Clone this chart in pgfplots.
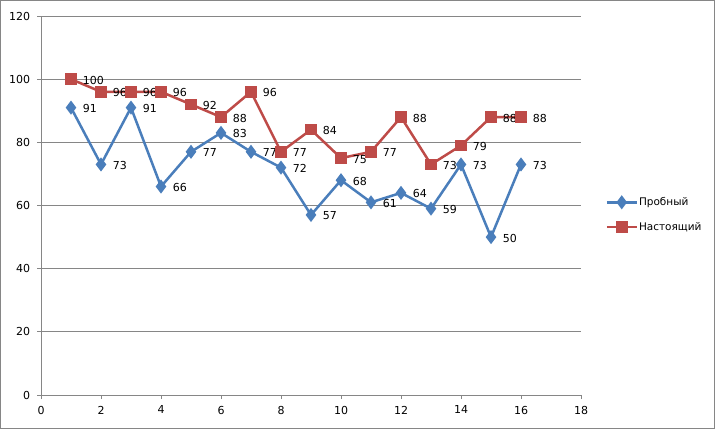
\documentclass[border=0pt]{standalone}
\usepackage{fontspec}
\setmainfont{DejaVu Sans}
\usepackage{pgfplots}
\pgfplotsset{compat=1.18}
\definecolor{sblue}{HTML}{4A7EBB}
\definecolor{sred}{HTML}{BE4B48}
\definecolor{gridc}{HTML}{868686}
\begin{document}
\begin{tikzpicture}
\fontsize{11}{13}\selectfont
\draw[gridc, line width=1pt] (0.5pt,0.5pt) rectangle (714.5pt,428.5pt);
\begin{axis}[
  at={(41pt,34pt)}, anchor=south west,
  scale only axis, width=540pt, height=379pt,
  xmin=0, xmax=18, ymin=0, ymax=120,
  xtick={0,2,...,18}, ytick={0,20,...,120},
  axis x line*=bottom, axis y line*=left,
  axis line style={gridc, line width=0.8pt, -},
  ymajorgrids, grid style={gridc, line width=0.8pt},
  tick style={gridc, line width=0.8pt},
  tick align=outside, major tick length=4pt,
  /pgf/number format/assume math mode=true,
  ticklabel style={font=\fontsize{11}{13}\selectfont},
  xticklabel style={yshift=-3pt},
  yticklabel style={xshift=-3pt},
  nodes near coords,
  every node near coord/.style={anchor=west, xshift=7pt, yshift=-1pt, text=black, font=\fontsize{11}{13}\selectfont},
  legend style={at={(1.045,0.476)}, anchor=west, draw=none, fill=none, font=\fontsize{10.5}{12}\selectfont, row sep=11pt, inner sep=0pt, nodes={inner xsep=1pt}},
  legend cell align=left,
  legend image code/.code={\draw[#1] (0pt,0pt) -- (30pt,0pt); \path[#1, only marks] plot coordinates {(15pt,0pt)};},
]
\addplot[sblue, line width=2.5pt, mark=diamond*, mark size=5pt, mark options={solid}] coordinates {
(1,91) (2,73) (3,91) (4,66) (5,77) (6,83) (7,77) (8,72) (9,57) (10,68) (11,61) (12,64) (13,59) (14,73) (15,50) (16,73)};
\addlegendentry{Пробный}
\addplot[sred, line width=2.5pt, mark=square*, mark size=4.5pt, mark options={solid}] coordinates {
(1,100) (2,96) (3,96) (4,96) (5,92) (6,88) (7,96) (8,77) (9,84) (10,75) (11,77) (12,88) (13,73) (14,79) (15,88) (16,88)};
\addlegendentry{Настоящий}
\end{axis}
\end{tikzpicture}
\end{document}
